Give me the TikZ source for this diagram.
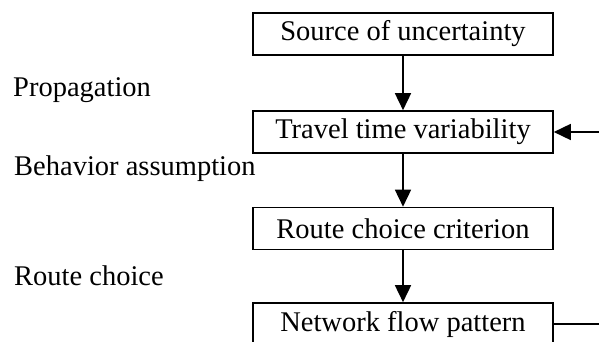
\documentclass[tikz,border=0pt]{standalone}
\usepackage{fontspec}
\setmainfont{Liberation Serif}
\usetikzlibrary{arrows.meta}
\begin{document}
\begin{tikzpicture}[x=1pt,y=-1pt,
  stagebox/.style={draw,line width=1.6pt,minimum width=300pt,minimum height=42pt,inner sep=0pt,
    font=\fontsize{28.5}{31}\selectfont},
  sidelabel/.style={anchor=base west,inner sep=0pt,font=\fontsize{28.5}{31}\selectfont},
  flow/.style={line width=1.6pt,-{Triangle[length=17pt,width=16pt]}},
  plainline/.style={line width=1.6pt}]
\useasboundingbox (0,0) rectangle (599,342);
\node[stagebox] (src) at (403,34) {Source of uncertainty};
\node[stagebox] (ttv) at (403,132) {Travel time variability};
\node[stagebox] (rcc) at (403,228.5) {Route choice criterion};
\node[stagebox] (nfp) at (403,324) {Network flow pattern};
\node[sidelabel] (lprop) at (13,97) {Propagation};
\node[sidelabel] (lbeh) at (14,175) {Behavior assumption};
\node[sidelabel] (lrc) at (14,285) {Route choice};
\coordinate (fbout) at (600,324);
\coordinate (fbin) at (600,132);
\draw[flow] (src) -- (ttv);
\draw[flow] (ttv) -- (rcc);
\draw[flow] (rcc) -- (nfp);
\draw[plainline] (nfp.east) -- (fbout);
\draw[flow] (fbin) -- (ttv.east);
\end{tikzpicture}
\end{document}
